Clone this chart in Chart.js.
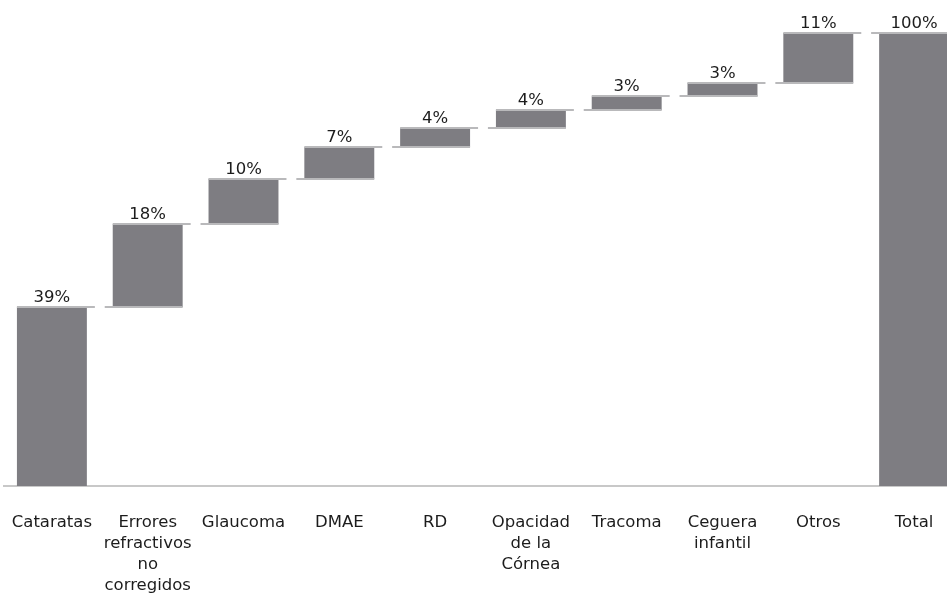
<!DOCTYPE html>
<html>
<head>
<meta charset="utf-8">
<script src="https://cdn.jsdelivr.net/npm/chart.js@4"></script>
<style>
  html, body { margin: 0; padding: 0; background: #fff; overflow: hidden; }
  .wrap { width: 962px; height: 598px; }
</style>
</head>
<body>
<div class="wrap"><canvas id="waterfall"></canvas></div>
<script>
const categories = [
  "Cataratas",
  ["Errores", "refractivos", "no", "corregidos"],
  "Glaucoma",
  "DMAE",
  "RD",
  ["Opacidad", "de la", "Córnea"],
  "Tracoma",
  ["Ceguera", "infantil"],
  "Otros",
  "Total",
];
// share of each cause (%)
const values = [39.5, 18.3, 10.0, 7.0, 4.2, 4.0, 3.0, 3.0, 11.0];
const totalValue = 100;
const valueLabels = ["39%", "18%", "10%", "7%", "4%", "4%", "3%", "3%", "11%", "100%"];

// floating ranges [start, end] for the waterfall
let running = 0;
const ranges = values.map((v) => {
  const r = [running, running + v];
  running += v;
  return r;
});
ranges.push([0, totalValue]);

const barColor = "#7e7d82";
const capColor = "#b9b9bb";
const textFont = "'DejaVu Sans', sans-serif";

const waterfallDecor = {
  id: "waterfallDecor",
  afterDatasetsDraw(chart) {
    const ctx = chart.ctx;
    const y = chart.scales.y;
    const bars = chart.getDatasetMeta(0).data;
    ctx.save();
    // connector lines between consecutive bars
    ctx.strokeStyle = capColor;
    ctx.lineWidth = 2;
    for (let i = 0; i < bars.length - 1; i++) {
      const level = Math.round(y.getPixelForValue(ranges[i][1]));
      const a = bars[i], b = bars[i + 1];
      ctx.beginPath();
      ctx.moveTo(a.x - a.width / 2, level);
      ctx.lineTo(a.x + a.width / 2 + 8, level);
      ctx.moveTo(b.x - b.width / 2 - 8, level);
      ctx.lineTo(b.x + b.width / 2, level);
      ctx.stroke();
    }
    // value labels
    ctx.fillStyle = "#1c1c1c";
    ctx.font = "16.5px " + textFont;
    ctx.textAlign = "center";
    ctx.textBaseline = "alphabetic";
    bars.forEach((bar, i) => {
      const top = y.getPixelForValue(ranges[i][1]);
      ctx.fillText(valueLabels[i], bar.x, top - 5);
    });
    ctx.restore();
  },
};

new Chart(document.getElementById("waterfall").getContext("2d"), {
  type: "bar",
  data: {
    labels: categories,
    datasets: [
      {
        data: ranges,
        backgroundColor: barColor,
        borderWidth: 0,
        borderSkipped: false,
        barPercentage: 0.73,
        categoryPercentage: 1,
      },
    ],
  },
  options: {
    responsive: true,
    maintainAspectRatio: false,
    animation: false,
    layout: {
      padding: { left: 4, top: 33, right: 0, bottom: 4 },
    },
    plugins: {
      legend: { display: false },
      tooltip: { enabled: false },
    },
    scales: {
      x: {
        grid: { display: false },
        border: { display: true, color: "#c8c8c8", width: 2 },
        ticks: {
          color: "#1c1c1c",
          padding: 18,
          maxRotation: 0,
          autoSkip: false,
          font: { family: textFont, size: 16.5, lineHeight: 1.28 },
        },
        afterFit(scale) {
          scale.height = 108;
          scale.paddingLeft = 0;
          scale.paddingRight = 0;
        },
      },
      y: {
        display: false,
        min: 0,
        max: 100,
      },
    },
  },
  plugins: [waterfallDecor],
});
</script>
</body>
</html>
